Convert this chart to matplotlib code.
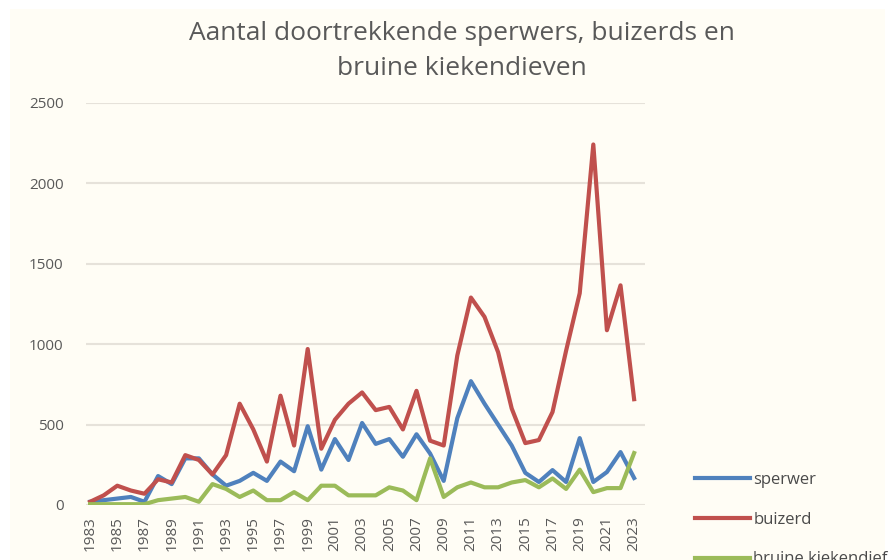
import numpy as np
from matplotlib import pyplot as plt
from matplotlib.patches import Rectangle

years = list(range(1983, 2024))

sperwer = [20, 30, 40, 50, 20, 180, 130, 290, 290, 190,
	120, 150, 200, 150, 270, 210, 490, 220, 410, 280,
	510, 380, 410, 300, 440, 320, 150, 540, 770, 630,
	500, 370, 200, 143, 217, 143, 416, 143, 205, 329, 168]

buizerd = [20, 60, 120, 90, 70, 160, 140, 310, 280, 190,
	310, 630, 470, 270, 680, 370, 970, 350, 530, 630,
	700, 590, 610, 470, 710, 400, 370, 930, 1290, 1170,
	950, 600, 385, 404, 578, 960, 1317, 2242, 1087, 1366, 658]

bruine_kiekendief = [5, 5, 5, 5, 5, 30, 40, 50, 20, 130,
	100, 50, 90, 30, 30, 80, 30, 120, 120, 60,
	60, 60, 110, 90, 30, 290, 50, 110, 140, 110,
	110, 140, 155, 110, 165, 100, 220, 80, 105, 105, 323]

labels = ["sperwer", "buizerd", "bruine kiekendief"]
colors = ["#4F81BD", "#C0504D", "#9BBB59"]

plt.rcParams["font.family"] = ["Open Sans", "DejaVu Sans"]

W, H = 893, 560
fig = plt.figure(figsize=(W/100, H/100), dpi=100)
fig.patch.set_facecolor("white")
fig.patches.append(Rectangle((10/W, 0), 875/W, 551/H, transform=fig.transFigure,
	facecolor="#FFFDF5", edgecolor="none", zorder=-10))

ax = fig.add_axes([86/W, 55/H, (645-86)/W, (505-103)/H])
ax.set_facecolor("none")

for series, lab, col in zip([sperwer, buizerd, bruine_kiekendief], labels, colors):
	ax.plot(years, series, color=col, linewidth=3, label=lab, solid_joinstyle="round")

ax.set_ylim(0, 2500)
ax.set_xlim(1982.7, 2023.8)
ax.set_yticks(np.arange(0, 2501, 500))
ax.set_xticks(years[::2])
ax.set_xticklabels([str(y) for y in years[::2]], rotation=90)
ax.grid(axis="y", color="#E6E2DA", linewidth=1.5)
ax.set_axisbelow(True)
for s in ax.spines.values():
	s.set_visible(False)
ax.tick_params(length=0, labelsize=11, colors="#595959")
ax.tick_params(axis="y", pad=16)
ax.tick_params(axis="x", pad=8)

fig.text(462/W, 1 - 51/H, "Aantal doortrekkende sperwers, buizerds en\nbruine kiekendieven",
	ha="center", va="center", fontsize=19, color="#595959", linespacing=1.55)

ax.legend(loc="upper left", bbox_to_anchor=(680/W, 1 - 457/H), bbox_transform=fig.transFigure,
	frameon=False, fontsize=12, labelspacing=1.42, handlelength=3.3, handletextpad=0.2,
	labelcolor="#4A4A4A")

fig.savefig("out.png", dpi=100, facecolor="white")
